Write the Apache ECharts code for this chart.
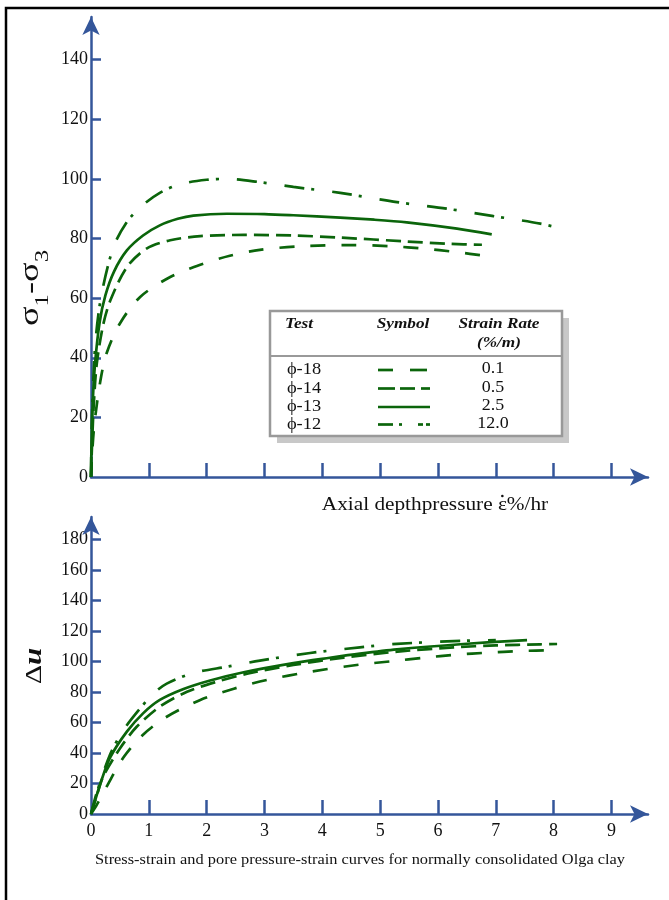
<!DOCTYPE html>
<html>
<head>
<meta charset="utf-8">
<script src="https://cdn.jsdelivr.net/npm/echarts@6/dist/echarts.min.js"></script>
<style>
html,body{margin:0;padding:0;background:#fff;}
#chart{width:669px;height:900px;}
</style>
</head>
<body>
<div id="chart"></div>
<script>
// ---- data (strain %, value) ----
var xTickValues = [1, 2, 3, 4, 5, 6, 7, 8, 9];
var xLabelValues = [0, 1, 2, 3, 4, 5, 6, 7, 8, 9];
var topYLabels = [0, 20, 40, 60, 80, 100, 120, 140];
var bottomYLabels = [0, 20, 40, 60, 80, 100, 120, 140, 160, 180];

var legendTests = ['\u03d5-18', '\u03d5-14', '\u03d5-13', '\u03d5-12'];
var legendRates = ['0.1', '0.5', '2.5', '12.0'];

// deviator stress (sigma1 - sigma3)
var stress_r01 = [[0,0],[0.02,8],[0.06,18],[0.16,32],[0.27,41.5],[0.5,51.5],[0.85,60.4],[1.37,67.1],[1.89,71.2],[2.4,74.2],[2.92,76.2],[3.62,77.4],[4.5,77.8],[5.2,77.4],[5.75,76.6],[6.3,75.5],[6.88,74]];
var stress_r05 = [[0,0],[0.02,12],[0.05,25],[0.1,38],[0.21,51],[0.33,59],[0.62,70.4],[0.96,76.6],[1.37,79.4],[1.89,80.8],[2.64,81.2],[3.5,81],[4.31,80.3],[5.46,79],[6.2,78.2],[6.76,77.9]];
var stress_r25 = [[0,0],[0.01,12],[0.03,25],[0.07,38],[0.15,52],[0.25,61],[0.4,69],[0.62,76],[0.9,81],[1.19,84.4],[1.5,86.6],[1.77,87.7],[2.35,88.3],[3,88.2],[3.5,87.8],[4.31,87],[4.9,86.3],[5.46,85.4],[6.33,83.3],[6.93,81.4]];
var stress_r120 = [[0,0],[0.01,14],[0.03,28],[0.08,46],[0.18,61],[0.39,77.2],[0.62,85.5],[0.85,90.5],[1.19,95.3],[1.54,98.2],[2.0,99.7],[2.35,100],[2.92,98.9],[3.5,97.3],[4.31,95.3],[5.29,92.2],[6.15,90],[6.96,87.5],[7.77,85],[8.09,83.5]];

// pore pressure (delta u)
var pore_r01 = [[0,0],[0.1,6],[0.27,17.9],[0.56,37],[0.9,52],[1.31,63.8],[1.89,74.8],[2.47,82.2],[3.04,87.9],[3.79,93.3],[4.65,98],[5.23,100.3],[5.75,102.5],[6.33,104.5],[6.85,105.8],[7.42,106.9],[8.05,107.5]];
var pore_r05 = [[0,0],[0.1,12],[0.21,24.5],[0.5,43],[0.79,57.2],[1.19,70.4],[1.66,80.2],[2.18,86.8],[2.7,92],[3.5,97.7],[4.37,102.6],[5.3,106.5],[6.27,109.3],[7.0,110.6],[7.77,111.3],[8.06,111.5]];
var pore_r25 = [[0,0],[0.08,10],[0.18,22],[0.33,37],[0.62,54],[0.9,66],[1.19,74.8],[1.6,82],[2.06,87.6],[2.64,93],[3.5,99],[4.13,102.5],[4.65,105.2],[5.29,108],[6.44,111.5],[7.54,114.1]];
var pore_r120 = [[0,0],[0.1,14],[0.33,39],[0.56,55],[0.85,69.3],[1.08,79],[1.31,85.5],[1.77,92.5],[2.35,96.6],[2.92,100.6],[3.79,105.6],[4.65,109.3],[5.29,111.6],[6.44,113.6],[7.0,114]];

// ---- styles ----
var AX = '#34569a';
var GREEN = '#0b650b';
var SERIF = '"Liberation Serif","Times New Roman",serif';
var DASH = {
  r01: [15, 16],
  r05: [15, 7],
  r25: 'solid',
  r120: [20, 7, 3, 18]
};

function xAxisCfg(gi, showLabels) {
  return {
    type: 'value', gridIndex: gi, min: 0, max: 9.632,
    axisLine: { show: true, lineStyle: { color: AX, width: 2.5 }, symbol: ['none', 'arrow'], symbolSize: [13, 18] },
    axisTick: { show: true, inside: true, length: 14, lineStyle: { color: AX, width: 2.5 }, customValues: xTickValues },
    axisLabel: { show: showLabels, customValues: xLabelValues, margin: 8, fontSize: 18, fontFamily: SERIF, color: '#111' },
    splitLine: { show: false }
  };
}
function yAxisCfg(gi, max, labels) {
  return {
    type: 'value', gridIndex: gi, min: 0, max: max,
    axisLine: { show: true, lineStyle: { color: AX, width: 2.5 }, symbol: ['none', 'arrow'], symbolSize: [13, 18] },
    axisTick: { show: true, inside: true, length: 10, lineStyle: { color: AX, width: 2.5 }, customValues: labels.slice(1) },
    axisLabel: { customValues: labels, margin: 3, fontSize: 18, fontFamily: SERIF, color: '#111' },
    splitLine: { show: false }
  };
}
function ser(data, dash, xi) {
  return {
    type: 'line', xAxisIndex: xi, yAxisIndex: xi, data: data,
    showSymbol: false, symbol: 'none', smooth: 0.3,
    lineStyle: { color: GREEN, width: 2.7, type: dash },
    silent: true, animation: false
  };
}

// legend graphics
var LX = 270, LY = 311, LW = 292, LH = 125;
var rowY = [370, 388.5, 407, 424.5];
var HFONT = 'bold italic 15px ' + SERIF;
var legendEls = [
  { type: 'rect', shape: { x: LX + 7, y: LY + 7, width: LW, height: LH }, style: { fill: '#c8c8c8' } },
  { type: 'rect', shape: { x: LX, y: LY, width: LW, height: LH }, style: { fill: '#fff', stroke: '#999', lineWidth: 2.5 } },
  { type: 'line', shape: { x1: LX, y1: 356, x2: LX + LW, y2: 356 }, style: { stroke: '#999', lineWidth: 2 } },
  { type: 'text', x: 299, y: 324, scaleX: 1.15, style: { text: 'Test', font: HFONT, fill: '#111', align: 'center', verticalAlign: 'middle' } },
  { type: 'text', x: 403, y: 324, scaleX: 1.15, style: { text: 'Symbol', font: HFONT, fill: '#111', align: 'center', verticalAlign: 'middle' } },
  { type: 'text', x: 499, y: 324, scaleX: 1.15, style: { text: 'Strain Rate', font: HFONT, fill: '#111', align: 'center', verticalAlign: 'middle' } },
  { type: 'text', x: 499, y: 343, scaleX: 1.15, style: { text: '(%/m)', font: HFONT, fill: '#111', align: 'center', verticalAlign: 'middle' } }
];
var symSegs = [
  [[378, 393], [410, 427]],
  [[378, 395], [400, 415], [421, 430]],
  [[378, 430]],
  [[378, 393], [399, 402], [418, 423], [426, 430]]
];
for (var i = 0; i < 4; i++) {
  legendEls.push({ type: 'text', x: 304, y: rowY[i], scaleX: 1.15, style: { text: legendTests[i], font: '16px ' + SERIF, fill: '#111', align: 'center', verticalAlign: 'middle' } });
  legendEls.push({ type: 'text', x: 493, y: rowY[i] - 1, scaleX: 1.12, style: { text: legendRates[i], font: '16px ' + SERIF, fill: '#111', align: 'center', verticalAlign: 'middle' } });
  symSegs[i].forEach(function (s) {
    legendEls.push({ type: 'line', shape: { x1: s[0], y1: rowY[i], x2: s[1], y2: rowY[i] }, style: { stroke: GREEN, lineWidth: 2.7 } });
  });
}

// x-axis name with a dot over epsilon (placed by measuring the text)
var XN_PREFIX = 'Axial depthpressure ';
var XN_EPS = '\u03b5';
var XN_TEXT = XN_PREFIX + XN_EPS + '%/hr';
var XN_FONT = '19px ' + SERIF;
var XN_SX = 1.12, XN_CX = 435, XN_CY = 505;
var mctx = document.createElement('canvas').getContext('2d');
mctx.font = XN_FONT;
var wAll = mctx.measureText(XN_TEXT).width;
var wPre = mctx.measureText(XN_PREFIX).width;
var wEps = mctx.measureText(XN_EPS).width;
var dotX = XN_CX - wAll * XN_SX / 2 + (wPre + wEps / 2) * XN_SX;

var chart = echarts.init(document.getElementById('chart'), null, { renderer: 'canvas' });
chart.setOption({
  animation: false,
  backgroundColor: '#fff',
  grid: [
    { left: 91, top: 17, width: 557, height: 460 },
    { left: 91, top: 517, width: 557, height: 297 }
  ],
  xAxis: [xAxisCfg(0, false), xAxisCfg(1, true)],
  yAxis: [yAxisCfg(0, 154.3, topYLabels), yAxisCfg(1, 194.8, bottomYLabels)],
  series: [
    ser(stress_r01, DASH.r01, 0),
    ser(stress_r05, DASH.r05, 0),
    ser(stress_r25, DASH.r25, 0),
    ser(stress_r120, DASH.r120, 0),
    ser(pore_r01, DASH.r01, 1),
    ser(pore_r05, DASH.r05, 1),
    ser(pore_r25, DASH.r25, 1),
    ser(pore_r120, DASH.r120, 1)
  ],
  graphic: [
    { type: 'rect', shape: { x: 6, y: 8, width: 720, height: 1000 }, style: { fill: 'none', stroke: '#000', lineWidth: 2.5 }, silent: true },
    {
      type: 'text', x: 35, y: 288, rotation: Math.PI / 2, scaleX: 1.3,
      style: {
        text: '{a|\u03c3}{b|1}{a|-\u03c3}{b|3}', align: 'center', verticalAlign: 'middle',
        rich: {
          a: { fontSize: 28, fontFamily: SERIF, fill: '#111', verticalAlign: 'top', lineHeight: 30 },
          b: { fontSize: 19, fontFamily: SERIF, fill: '#111', verticalAlign: 'top', padding: [17, 0, 0, 0] }
        }
      }
    },
    {
      type: 'text', x: 35, y: 666, rotation: Math.PI / 2, scaleX: 1.25,
      style: {
        text: '{a|\u0394}{b|u}', align: 'center', verticalAlign: 'middle',
        rich: {
          a: { fontSize: 24, fontFamily: SERIF, fill: '#111' },
          b: { fontSize: 25, fontFamily: SERIF, fontWeight: 'bold', fontStyle: 'italic', fill: '#111' }
        }
      }
    },
    { type: 'text', x: XN_CX, y: XN_CY, scaleX: XN_SX, style: { text: XN_TEXT, font: XN_FONT, fill: '#111', align: 'center', verticalAlign: 'middle' } },
    { type: 'circle', shape: { cx: dotX, cy: XN_CY - 9, r: 1.3 }, style: { fill: '#111' } },
    { type: 'text', x: 360, y: 860, scaleX: 1.13, style: { text: 'Stress-strain and pore pressure-strain curves for normally consolidated Olga clay', font: '14.5px ' + SERIF, fill: '#111', align: 'center', verticalAlign: 'middle' } }
  ].concat(legendEls)
});
</script>
</body>
</html>
